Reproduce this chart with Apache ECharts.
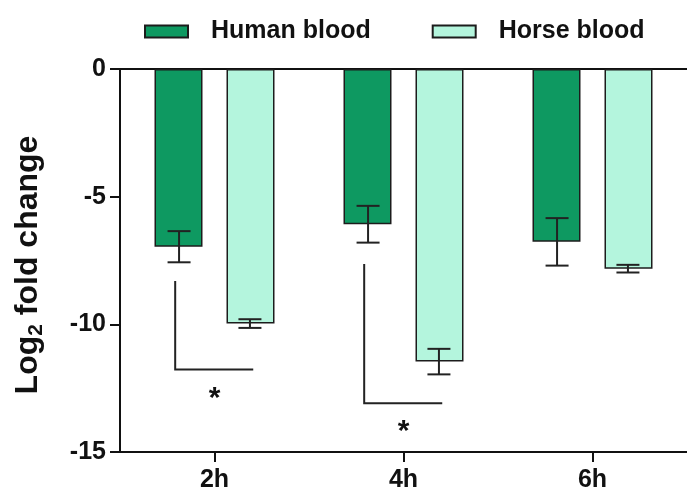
<!DOCTYPE html>
<html><head><meta charset="utf-8">
<script src="https://cdn.jsdelivr.net/npm/echarts@6/dist/echarts.min.js"></script>
<style>html,body{margin:0;padding:0;background:#fff}#c{width:687px;height:493px}</style>
</head><body><div id="c"></div>
<script>
const categories = ['2h', '4h', '6h'];
const humanMean = [-6.96, -6.08, -6.77];
const humanErr = [0.61, 0.72, 0.93];
const horseMean = [-9.97, -11.46, -7.82];
const horseErr = [0.17, 0.5, 0.15];
const brackets = [[0, -8.3, -11.77], [1, -7.64, -13.09]];
const stars = [[0, -12.9], [1, -14.2]];

const FONT = 'Liberation Sans, Arial, sans-serif';
const INK = '#111';
const HUMAN = '#0e9961';
const HORSE = '#b4f5dd';
const EDGE = '#1c1c1c';

function errRender(offsetFrac) {
  return function (params, api) {
    const i = api.value(0), m = api.value(1), e = api.value(2);
    const band = api.size([1, 0])[0];
    const x = api.coord([i, m])[0] + offsetFrac * band;
    const top = api.coord([i, m + e])[1];
    const bot = api.coord([i, m - e])[1];
    const hw = 11.5;
    const st = { stroke: '#222', lineWidth: 2 };
    return { type: 'group', children: [
      { type: 'line', shape: { x1: x, y1: top, x2: x, y2: bot }, style: st },
      { type: 'line', shape: { x1: x - hw, y1: top, x2: x + hw, y2: top }, style: st },
      { type: 'line', shape: { x1: x - hw, y1: bot, x2: x + hw, y2: bot }, style: st }
    ]};
  };
}

function bracketRender(params, api) {
  const i = api.value(0), t = api.value(1), b = api.value(2);
  const band = api.size([1, 0])[0];
  const cx = api.coord([i, t])[0];
  const xl = cx - 0.208 * band, xr = cx + 0.205 * band;
  const yt = api.coord([i, t])[1], yb = api.coord([i, b])[1];
  return { type: 'polyline', shape: { points: [[xl, yt], [xl, yb], [xr, yb]] },
    style: { stroke: '#222', lineWidth: 2, fill: null } };
}

function starRender(params, api) {
  const p = api.coord([api.value(0), api.value(1)]);
  return { type: 'text', x: p[0], y: p[1],
    style: { text: '*', fontSize: 30, fontWeight: 'bold', fontFamily: FONT, fill: INK,
      align: 'center', verticalAlign: 'middle' } };
}

const chart = echarts.init(document.getElementById('c'));
chart.setOption({
  animation: false,
  backgroundColor: '#fff',
  legend: {
    data: ['Human blood', 'Horse blood'],
    left: 139, top: 14, itemWidth: 43, itemHeight: 12, itemGap: 61,
    icon: 'rect',
    textStyle: { fontSize: 25, fontWeight: 'bold', fontFamily: FONT, color: INK, padding: [0, 0, 0, 18] }
  },
  grid: { left: 120, top: 69, right: -9, bottom: 39 },
  xAxis: [{
    type: 'category', data: categories, position: 'bottom',
    axisLine: { show: true, onZero: false, lineStyle: { color: '#111', width: 2 } },
    axisTick: { show: true, alignWithLabel: true, length: 10, lineStyle: { color: '#111', width: 2 } },
    axisLabel: { fontSize: 25, fontWeight: 'bold', fontFamily: FONT, color: INK, margin: 16 }
  }, {
    type: 'category', data: categories, position: 'top',
    axisLine: { show: true, onZero: false, lineStyle: { color: '#111', width: 2 } },
    axisTick: { show: false }, axisLabel: { show: false }
  }],
  yAxis: {
    type: 'value', min: -15, max: 0, interval: 5,
    axisLine: { show: true, lineStyle: { color: '#111', width: 2 } },
    axisTick: { show: true, length: 10, lineStyle: { color: '#111', width: 2 } },
    splitLine: { show: false },
    axisLabel: { fontSize: 25, fontWeight: 'bold', fontFamily: FONT, color: INK, margin: 14 },
    name: '{a|Log}{b|2}{a| fold change}',
    nameLocation: 'middle', nameRotate: 90, nameGap: 73,
    nameTextStyle: { padding: [0, 9, 0, 0], rich: {
      a: { fontSize: 32, fontWeight: 'bold', fontFamily: FONT, color: INK },
      b: { fontSize: 21, fontWeight: 'bold', fontFamily: FONT, color: INK, padding: [16, 0, 0, 0] }
    } }
  },
  series: [
    { name: 'Human blood', type: 'bar', data: humanMean, barWidth: 48, barGap: '50%',
      itemStyle: { color: HUMAN, borderColor: EDGE, borderWidth: 1.5 } },
    { name: 'Horse blood', type: 'bar', data: horseMean, barWidth: 48, barGap: '50%',
      itemStyle: { color: HORSE, borderColor: EDGE, borderWidth: 1.5 } },
    { type: 'custom', z: 5, renderItem: errRender(-0.1875), encode: { x: 0, y: 1 },
      data: humanMean.map((m, i) => [i, m, humanErr[i]]) },
    { type: 'custom', z: 5, renderItem: errRender(0.1875), encode: { x: 0, y: 1 },
      data: horseMean.map((m, i) => [i, m, horseErr[i]]) },
    { type: 'custom', z: 5, renderItem: bracketRender, encode: { x: 0, y: 1 }, data: brackets },
    { type: 'custom', z: 5, renderItem: starRender, encode: { x: 0, y: 1 }, data: stars }
  ]
});
</script></body></html>
